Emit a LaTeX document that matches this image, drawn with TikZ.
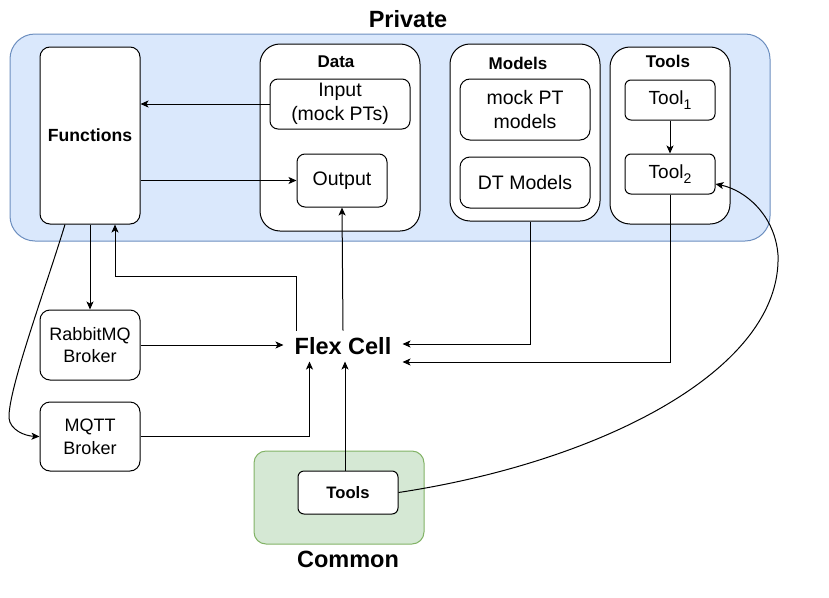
\documentclass[tikz,border=0pt]{standalone}
\usepackage{fontspec}
\setmainfont{Liberation Sans}
\usetikzlibrary{arrows.meta,calc}
\definecolor{pfill}{HTML}{DAE8FC}
\definecolor{pline}{HTML}{6C8EBF}
\definecolor{gfill}{HTML}{D5E8D4}
\definecolor{gline}{HTML}{82B366}
\newcommand\toolsub[1]{{\fontsize{14}{14}\selectfont\raisebox{-5pt}{#1}}}
\begin{document}
\begin{tikzpicture}[x=1pt,y=-1pt,
  line width=1pt,
  box/.style={draw=black,fill=white,inner sep=0pt,align=center},
  reg/.style={font=\fontsize{19.5}{23.5}\selectfont},
  small/.style={font=\fontsize{18}{22.7}\selectfont},
  hdr/.style={font=\bfseries\fontsize{17}{20}\selectfont,inner sep=0pt},
  big/.style={font=\bfseries\fontsize{23.5}{28}\selectfont,inner sep=0pt},
  arr/.style={-{Stealth[length=8pt,width=7pt,inset=2pt]},line width=1pt},
  con/.style={line width=1pt}
]
\useasboundingbox (0,0) rectangle (829,597);
% Private region
\node[draw=pline,fill=pfill,rounded corners=25pt,minimum width=760pt,minimum height=207pt,inner sep=0pt] (private) at (390,137.5) {};
\node[big] (privlbl) at (408,19) {Private};
% Functions
\node[box,rounded corners=10pt,minimum width=100pt,minimum height=177pt,font=\bfseries\fontsize{17.6}{21}\selectfont] (functions) at (90,135.5) {Functions};
% Data
\node[box,rounded corners=20pt,minimum width=160pt,minimum height=187pt] (data) at (340,137.5) {};
\node[hdr] (datalbl) at (336,62) {Data};
\node[box,reg,rounded corners=8pt,minimum width=140pt,minimum height=50pt] (input) at (340,104) {Input\\(mock PTs)};
\node[box,reg,rounded corners=8pt,minimum width=90pt,minimum height=53pt] (output) at (342,180.5) {Output};
% Models
\node[box,rounded corners=20pt,minimum width=150pt,minimum height=177pt] (models) at (525,132.5) {};
\node[hdr] (modelslbl) at (518,63) {Models};
\node[box,reg,rounded corners=10pt,minimum width=130pt,minimum height=61pt] (mockpt) at (525,109.5) {mock PT\\models};
\node[box,reg,rounded corners=10pt,minimum width=130pt,minimum height=51pt] (dtm) at (525,182.5) {DT Models};
% Tools (private)
\node[box,rounded corners=20pt,minimum width=120pt,minimum height=177pt] (tools) at (670,135.5) {};
\node[hdr] (toolslbl) at (668,61) {Tools};
\node[box,rounded corners=6pt,minimum width=90pt,minimum height=40pt,font=\fontsize{19}{22}\selectfont] (tool1) at (670,100) {Tool\toolsub{1}};
\node[box,rounded corners=6pt,minimum width=90pt,minimum height=40pt,font=\fontsize{19}{22}\selectfont] (tool2) at (670,174) {Tool\toolsub{2}};
% Brokers
\node[box,small,rounded corners=10pt,minimum width=100pt,minimum height=70pt] (rabbit) at (90,345) {RabbitMQ\\Broker};
\node[box,small,rounded corners=10pt,minimum width=100pt,minimum height=69pt] (mqtt) at (90,436.5) {MQTT\\Broker};
% Flex Cell
\node[big,minimum width=118pt,minimum height=30pt] (flex) at (343,346) {Flex Cell};
% Common region
\node[draw=gline,fill=gfill,rounded corners=12pt,minimum width=170pt,minimum height=93pt,inner sep=0pt] (common) at (339,497.5) {};
\node[box,rounded corners=6pt,minimum width=100pt,minimum height=43pt,font=\bfseries\fontsize{16.6}{20}\selectfont] (ctools) at (348,492.5) {Tools};
\node[big] (commonlbl) at (348,559) {Common};
% Connectors
\draw[arr] (input.west) -- (input.west -| functions.east);
\draw[arr] (functions.east |- output.west) -- (output.west);
\draw[arr] (functions.south) -- (rabbit.north);
\draw[arr] ([xshift=13pt]flex.north west) -- ++(0,-54) -| ([xshift=25pt]functions.south);
\draw[arr] (flex.north) -- (output.south);
\draw[arr] (rabbit.east) -- (rabbit.east -| flex.west);
\draw[arr] (mqtt.east) -| ([xshift=26pt]flex.south west);
\draw[arr] ([xshift=-3pt]ctools.north) -- ([xshift=-3pt]ctools.north |- flex.south);
\draw[arr] ([xshift=5pt]models.south) |- ([yshift=2pt]flex.east);
\draw[arr] (tool2.south) |- ([yshift=-16pt]flex.east);
\draw[arr] (tool1.south) -- (tool2.north);
\draw[arr] (ctools.east) .. controls (600,462) and (782,370) .. (778,255)
  .. controls (775,215) and (745,190) .. ([yshift=-10pt]tool2.east);
\draw[arr] ([xshift=-25pt]functions.south) .. controls (45,290) and (8,390) .. (9,418)
  .. controls (10,430) and (25,436) .. (mqtt.west);
\end{tikzpicture}
\end{document}
